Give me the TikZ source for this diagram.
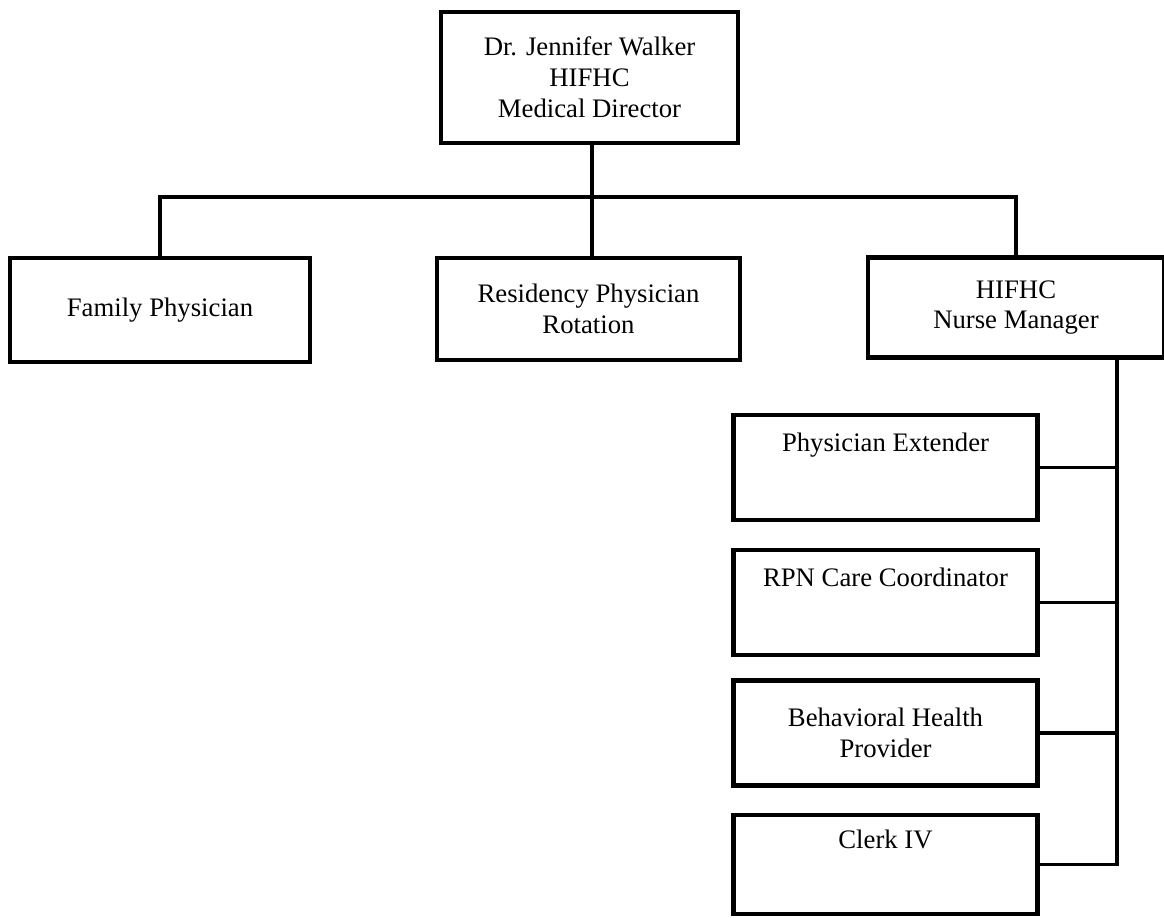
\documentclass[tikz,border=0pt]{standalone}
\usepackage{fontspec}
\setmainfont{Liberation Serif}
\usepackage{tikz}

\begin{document}
\begin{tikzpicture}[x=0.025cm, y=-0.025cm]
      \path[use as bounding box, fill=white] (0,0) rectangle (1164,917);

      \begin{scope}[every node/.style={rectangle, draw, line width=3.2pt, align=center,
          inner sep=2pt, font=\fontsize{19}{22}\selectfont}]
        \node [minimum width=7.43cm, minimum height=3.28cm] (dir) at (589.5,77.5) {Dr. Jennifer Walker\\HIFHC\\Medical Director};
        \node [minimum width=7.5cm, minimum height=2.6cm] (fam) at (160,310) {Family Physician};
        \node [minimum width=7.58cm, minimum height=2.55cm] (res) at (588.5,309) {Residency Physician\\Rotation};
        \node [minimum width=7.4cm, minimum height=2.5cm] (nm) at (1016,307.5) {HIFHC\\Nurse Manager};

        \node [minimum width=7.6cm, minimum height=2.62cm] (pe) at (885.5,467.5) {Physician Extender\\[8pt]\strut};
        \node [minimum width=7.6cm, minimum height=2.62cm] (rpn) at (885.5,602.5) {RPN Care Coordinator\\[8pt]\strut};
        \node [minimum width=7.6cm, minimum height=2.62cm] (bhp) at (885.5,733) {Behavioral Health\\Provider};
        \node [minimum width=7.6cm, minimum height=2.48cm] (clerk) at (885.5,864.5) {Clerk IV\\[8pt]\strut};
      \end{scope}

      \coordinate (bus) at (592,197);
      \coordinate (rbus) at (1117,358);

      \begin{scope}[line width=2.8pt]
        \draw (dir.south -| bus) -- (res.north -| bus);
        \draw (fam.north) |- (bus) -| (nm.north);
        \draw (nm.south -| rbus) -- (rbus |- clerk.east) -- (clerk.east);
        \draw (pe.east) -- (pe.east -| rbus);
        \draw (rpn.east) -- (rpn.east -| rbus);
        \draw (bhp.east) -- (bhp.east -| rbus);
      \end{scope}
   \end{tikzpicture}
\end{document}
